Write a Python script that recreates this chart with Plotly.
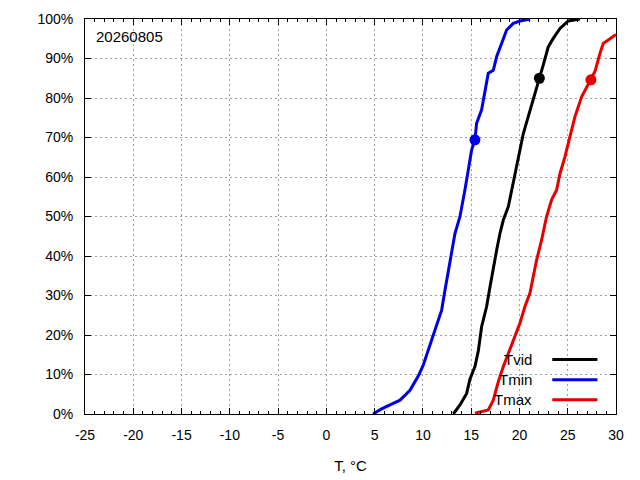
import plotly.graph_objects as go

# cumulative share of days (%) vs temperature
tvid_t = [13.15, 13.84, 14.53, 14.87, 15.39, 15.74, 16.08, 16.6, 16.95, 17.29, 17.64, 17.98,
          18.33, 18.85, 19.36, 19.88, 20.4, 20.91, 21.43, 21.78, 22.06, 22.47, 22.99, 23.5,
          24.2, 25.06, 26.27]
tvid_p = [0, 2.3, 5.2, 8.8, 12.0, 16.0, 22.1, 27.2, 32.2, 37.3, 41.5, 45.7,
          49.1, 52.5, 58.4, 65.1, 71.0, 75.3, 79.5, 82.9, 85.0, 88.4, 93.0, 95.1,
          97.6, 99.5, 100]

tmin_t = [4.83, 5.72, 6.59, 7.63, 8.66, 9.52, 10.04, 10.56, 11.07, 11.59, 11.94, 12.29,
          12.8, 13.32, 13.84, 14.18, 14.35, 14.7, 15.04, 15.39, 15.56, 16.08, 16.43, 16.77,
          17.29, 17.64, 18.15, 18.67, 19.36, 20.05, 21.1]
tmin_p = [0, 1.3, 2.3, 3.5, 6.0, 9.6, 12.4, 16.2, 20.0, 23.8, 26.3, 31.4,
          39.0, 45.7, 50.0, 54.2, 56.7, 61.8, 66.8, 69.4, 73.6, 77.0, 82.0, 86.3,
          87.0, 90.5, 93.8, 97.2, 98.9, 99.5, 100]

tmax_t = [15.39, 16.77, 17.29, 17.81, 18.33, 18.85, 19.53, 20.05, 20.57, 21.09, 21.43, 21.78,
          22.29, 22.81, 23.33, 23.85, 24.2, 24.71, 25.23, 25.75, 26.44, 27.4, 27.82, 28.34,
          28.68, 29.2, 29.89, 30.0]
tmax_p = [0.2, 1.0, 3.5, 8.2, 12.0, 15.4, 19.6, 23.0, 27.2, 30.6, 34.8, 39.0,
          44.0, 50.0, 54.2, 56.7, 60.9, 65.1, 70.2, 75.3, 80.3, 84.6, 86.7, 91.3,
          93.8, 94.7, 95.9, 96.1]

# today's values (dots)
today_t = {"Tvid": 22.06, "Tmin": 15.39, "Tmax": 27.4}
today_p = {"Tvid": 85.0, "Tmin": 69.4, "Tmax": 84.6}

x_ticks = [-25, -20, -15, -10, -5, 0, 5, 10, 15, 20, 25, 30]
x_tick_labels = ["-25", "-20", "-15", "-10", "-5", "0", "5", "10", "15", "20", "25", "30"]

names = ["Tvid", "Tmin", "Tmax"]
colors = {"Tvid": "black", "Tmin": "#0000e6", "Tmax": "#e60000"}
series = {"Tvid": (tvid_t, tvid_p), "Tmin": (tmin_t, tmin_p), "Tmax": (tmax_t, tmax_p)}
date_label = "20260805"
font_name = "Liberation Sans, Arial"

fig = go.Figure()
for n in names:
    t, p = series[n]
    fig.add_trace(go.Scatter(x=t, y=p, mode="lines", name=n,
                             line=dict(color=colors[n], width=3), showlegend=False))
    fig.add_trace(go.Scatter(x=[today_t[n]], y=[today_p[n]], mode="markers",
                             marker=dict(color=colors[n], size=11), showlegend=False,
                             cliponaxis=False))

# gnuplot-like key: text right-aligned, line sample to the right
for i, n in enumerate(names):
    yk = 0.138 - i * 0.051
    fig.add_annotation(x=0.845, y=yk, xref="paper", yref="paper", text=n, showarrow=False,
                       xanchor="right", yanchor="middle",
                       font=dict(family=font_name, size=15, color="black"))
    fig.add_shape(type="line", xref="paper", yref="paper", x0=0.88, x1=0.965, y0=yk, y1=yk,
                  line=dict(color=colors[n], width=3))

fig.add_annotation(x=0.017, y=0.983, xref="paper", yref="paper", text=date_label,
                   showarrow=False, xanchor="left", yanchor="top",
                   font=dict(family=font_name, size=15, color="black"))

axis_common = dict(showline=True, linecolor="black", linewidth=1, mirror="allticks",
                   ticks="inside", ticklen=6, tickcolor="black",
                   showgrid=True, gridcolor="#a0a0a0", griddash="2px,3px", gridwidth=1,
                   zeroline=False, ticklabelstandoff=8, automargin=False,
                   tickfont=dict(family=font_name, size=14, color="black"))

fig.update_xaxes(range=[-25, 30], tickvals=x_ticks, ticktext=x_tick_labels,
                 minor=dict(ticks="inside", dtick=1, ticklen=3, tickcolor="black", showgrid=False),
                 title=dict(text="T, °C", font=dict(family=font_name, size=15, color="black"),
                            standoff=18),
                 **axis_common)
fig.update_yaxes(range=[0, 100], dtick=10, ticksuffix="%", **axis_common)

fig.update_layout(width=640, height=480, plot_bgcolor="white", paper_bgcolor="white",
                  margin=dict(l=77, r=32, t=11, b=74))

fig.write_html("out.html")
